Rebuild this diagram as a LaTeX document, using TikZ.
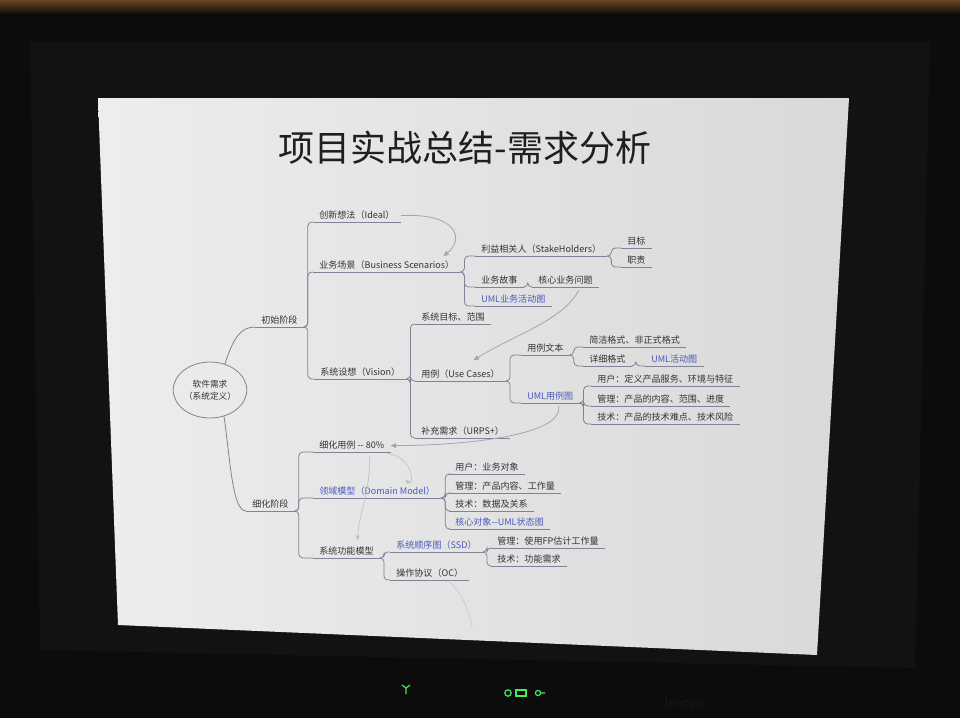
\documentclass[tikz,border=0pt]{standalone}
\usepackage{fontspec}
\newfontfamily\cjk{Noto Sans CJK SC}
\usetikzlibrary{calc,shapes.geometric,arrows.meta}
\definecolor{txt}{HTML}{333335}
\definecolor{blu}{HTML}{4A5AC0}
\definecolor{lin}{HTML}{7E8496}
\definecolor{arc}{HTML}{A2A6B0}
\definecolor{bezel}{HTML}{0C0C0C}
\definecolor{panel}{HTML}{121212}
\definecolor{led}{HTML}{3CF05A}
\tikzset{
  mm/.style={anchor=south west, font=\cjk\fontsize{6.8}{8}\selectfont, text=txt,
    inner xsep=4.5pt, inner ysep=1.2pt, text height=5.6pt, text depth=1.2pt},
  bl/.style={mm, text=blu},
  ul/.style={draw=lin, line width=0.6pt},
  br/.style={draw=lin, line width=0.6pt, rounded corners=3pt},
  ar/.style={draw=arc, line width=0.6pt, -{Triangle[length=4pt,width=3.5pt]}},
  faint/.style={draw=arc!70, line width=0.5pt, -{Triangle[length=3.5pt,width=3pt]}},
}
\begin{document}
\begin{tikzpicture}[x=0.75pt,y=-0.75pt]
\useasboundingbox (0,0) rectangle (960,718);
% monitor and surroundings
\fill[bezel] (0,0) rectangle (960,718);
\shade[top color=brown!55!black, bottom color=black!88!brown] (0,0) rectangle (960,13);
\fill[panel] (30,42) -- (930,42) -- (915,668) -- (40,650) -- cycle;
\shade[left color=white!93!black, right color=white!85!black] (98,98) -- (849,98) -- (817,655) -- (118,625) -- cycle;
% LEDs and logo
\draw[led, line width=0.9pt] (406,694) -- (406,688) (402,685) -- (406,688) -- (410,685);
\draw[led, line width=0.9pt] (508,693) circle (3.2);
\draw[led, line width=0.9pt] (516,690) rectangle (526,696);
\draw[led, line width=0.9pt] (538,693) circle (2.6) (541,693) -- (545,693);
\node[font=\cjk\fontsize{9}{10}\selectfont, text=black!90] (logo) at (684,703) {lenovo};
% title
\node[font=\cjk\fontsize{27}{30}\selectfont, text=black!88] (title) at (465,148) {项目实战总结-需求分析};
% root
\node[ellipse, draw=lin, line width=0.6pt, minimum width=50pt, minimum height=42pt,
      inner sep=0pt, align=center, text=txt, font=\cjk\fontsize{6.5}{9}\selectfont] (root) at (210,390) {软件需求\\（系统定义）};
% nodes
\node[mm] (s1) at (255,327) {初始阶段};
\node[mm] (s2) at (246,511) {细化阶段};
\node[mm] (a1) at (313,222) {创新想法（Ideal）};
\node[mm] (a2) at (313,272) {业务场景（Business Scenarios）};
\node[mm] (a3) at (314,379) {系统设想（Vision）};
\node[mm] (b1) at (475,256) {利益相关人（StakeHolders）};
\node[mm] (b11) at (621,248) {目标};
\node[mm] (b12) at (621,267) {职责};
\node[mm] (b2) at (475,287) {业务故事};
\node[mm] (b21) at (532,287) {核心业务问题};
\node[bl] (b3) at (475,306) {UML业务活动图};
\node[mm] (c1) at (415,324) {系统目标、范围};
\node[mm] (c2) at (415,381) {用例（Use Cases）};
\node[mm] (c3) at (415,438) {补充需求（URPS+）};
\node[mm] (d1) at (521,355) {用例文本};
\node[mm] (d11) at (583,347) {简洁格式、非正式格式};
\node[mm] (d12) at (583,366) {详细格式};
\node[bl] (d121) at (645,366) {UML活动图};
\node[bl] (d2) at (521,403) {UML用例图};
\node[mm] (d21) at (591,386) {用户：定义产品服务、环境与特征};
\node[mm] (d22) at (591,406) {管理：产品的内容、范围、进度};
\node[mm] (d23) at (591,424) {技术：产品的技术难点、技术风险};
\node[mm] (e1) at (313,452) {细化用例 -{}- 80\%};
\node[bl] (e2) at (313,498) {领域模型（Domain Model）};
\node[mm] (e3) at (313,558) {系统功能模型};
\node[mm] (f1) at (449,474) {用户：业务对象};
\node[mm] (f2) at (449,493) {管理：产品内容、工作量};
\node[mm] (f3) at (449,511) {技术：数据及关系};
\node[bl] (f4) at (449,529) {核心对象-{}-UML状态图};
\node[bl] (g1) at (390,552) {系统顺序图（SSD）};
\node[mm] (g2) at (390,580) {操作协议（OC）};
\node[mm] (h1) at (491,548) {管理：使用FP估计工作量};
\node[mm] (h2) at (491,566) {技术：功能需求};
% underlines
\foreach \n in {s1,s2,a1,a2,a3,b1,b11,b12,b2,b21,b3,c1,c2,c3,d1,d11,d12,d121,d2,d21,d22,d23,e1,e2,e3,f1,f2,f3,f4,g1,g2,h1,h2}
  \draw[ul] (\n.south west) -- (\n.south east);
% branches
\draw[br] (root.60) .. controls +(8,-26) and +(-14,0) .. (s1.south west);
\draw[br] (root.-62) .. controls +(6,40) and +(-14,0) .. (s2.south west);
\foreach \p/\c in {s1/a1,s1/a2,s1/a3,a2/b1,a2/b2,a2/b3,b1/b11,b1/b12,b2/b21,a3/c1,a3/c2,a3/c3,c2/d1,c2/d2,d1/d11,d1/d12,d12/d121,d2/d21,d2/d22,d2/d23,s2/e1,s2/e2,s2/e3,e2/f1,e2/f2,e2/f3,e2/f4,e3/g1,e3/g2,g1/h1,g1/h2}
  \draw[br] (\p.south east) -- ++(4,0) |- (\c.south west);
% relation arrows
\draw[ar] (a1.east) .. controls +(55,-3) and +(22,-18) .. ($(a2.north east)+(-17,-3)$);
\draw[ar] ($(b21.south east)+(-20,3)$) .. controls +(-15,30) and +(40,-25) .. ($(c2.north)+(13,-8)$);
\draw[ar] ($(d2.south east)+(-21,3)$) .. controls +(6,30) and +(70,0) .. (e1.east);
\draw[faint] ($(e1.south east)+(-4,1)$) .. controls +(30,5) and +(8,10) .. ($(e2.north east)+(-36,-6)$);
\draw[faint] ($(e1.south)+(18,3)$) .. controls +(0,40) and +(2,-30) .. ($(e3.north)+(11,-5)$);
\coordinate (tail) at (472,626);
\draw[draw=arc!60, line width=0.5pt] ($(g2.south east)+(-20,2)$) .. controls +(12,10) and +(-5,-20) .. (tail);
\end{tikzpicture}
\end{document}
